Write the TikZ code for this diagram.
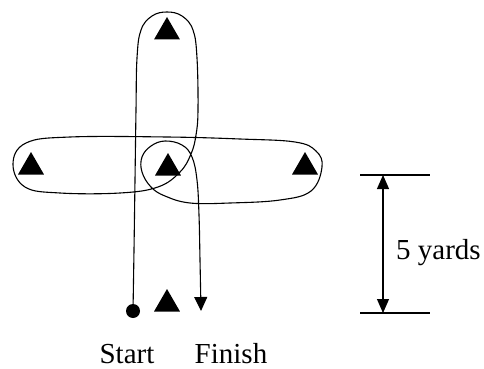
\documentclass[tikz,border=0pt]{standalone}
\usepackage{fontspec}
\setmainfont{Liberation Serif}
\usetikzlibrary{shapes.geometric,arrows.meta}
\begin{document}
\begin{tikzpicture}[x=1pt,y=-1pt,
  cone/.style={regular polygon,regular polygon sides=3,fill=black,draw=none,minimum size=30pt,inner sep=0pt,outer sep=0pt},
  route/.style={line width=1.1pt,line join=round},
  lbl/.style={font=\fontsize{29}{31}\selectfont,inner sep=0pt},
  tip/.style={-{Triangle[width=13pt,length=14pt]}}]
\useasboundingbox (0,0) rectangle (484,369);
% cones
\node[cone] (ctop) at (167,32) {};
\node[cone] (cleft) at (31,167) {};
\node[cone] (cmid) at (168,168) {};
\node[cone] (cright) at (305,167) {};
\node[cone] (cbot) at (167,304) {};
% start and finish
\node[circle,fill=black,minimum size=14pt,inner sep=0pt] (start) at (133,311) {};
\coordinate (finish) at (201,311);
% route
\draw[route,tip] plot[smooth,tension=0.65] coordinates {
 (133,311) (134,250) (135,180) (136,110) (137,58) (141,30) (152,16) (167,12) (182,16) (193,30)
 (197,58) (198,110) (196,135) (191,154) (180,172) (158,187) (120,193)
 (60,193) (25,187) (13,164) (26,143) (70,137) (167,137) (240,139) (295,142)
 (316,151) (322,167) (311,191) (280,200) (230,203) (190,203) (165,196) (151,187)
 (142,172) (142,157) (151,146) (165,141) (182,145) (192,157) (197,180) (199,215)
 (200,260) (201,311)};
% labels
\node[lbl,anchor=base] (tstart) at (127,363) {Start};
\node[lbl,anchor=base] (tfinish) at (231,363) {Finish};
% dimension
\coordinate (d1) at (360,175);
\coordinate (d2) at (430,175);
\coordinate (d3) at (360,313);
\coordinate (d4) at (430,313);
\coordinate (a1) at (383,175);
\coordinate (a2) at (383,313);
\draw[line width=1.1pt] (d1) -- (d2);
\draw[line width=1.1pt] (d3) -- (d4);
\draw[line width=1.1pt,{Triangle[width=12pt,length=14pt]}-{Triangle[width=12pt,length=14pt]}] (a1) -- (a2);
\node[lbl,anchor=base west] (tyards) at (396,259) {5 yards};
\end{tikzpicture}
\end{document}
